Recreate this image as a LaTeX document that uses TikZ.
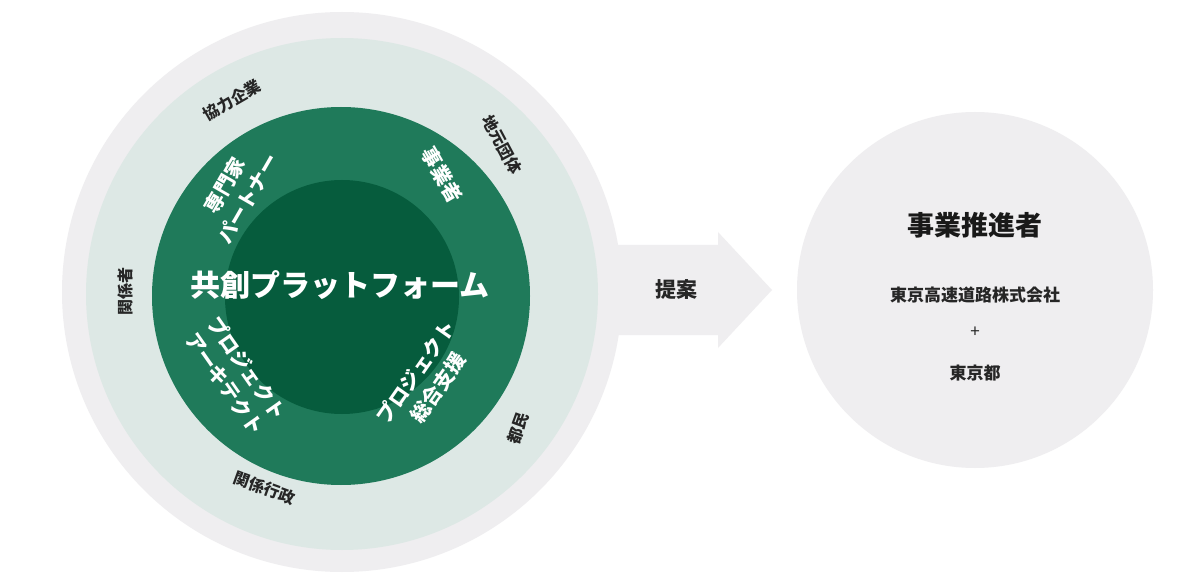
\documentclass[tikz,border=0pt]{standalone}
\usepackage{fontspec}
\setmainfont{Noto Sans CJK JP}
\begin{document}
\begin{tikzpicture}[x=1pt,y=-1pt,
  lbl/.style={font=\bfseries\fontsize{16}{18}\selectfont,text=black!85,align=center},
  wlbl/.style={font=\bfseries\fontsize{20}{27}\selectfont,text=white,align=center}]
\definecolor{greyc}{HTML}{EFEEF0}
\definecolor{palec}{HTML}{DDE8E5}
\definecolor{ringc}{HTML}{1F7A5A}
\definecolor{corec}{HTML}{065C3D}
\useasboundingbox (0,0) rectangle (1200,580);
\fill[white] (0,0) rectangle (1200,580);
% arrow
\fill[greyc] (560,245) -- (718,245) -- (718,232) -- (772,290) -- (718,348) -- (718,335) -- (560,335) -- cycle;
\fill[greyc] (342,292) circle (280);
\fill[palec] (342,294) circle (256);
\fill[ringc] (341,296) circle (189);
\fill[corec] (342,297) circle (117);
\node[font=\bfseries\fontsize{30}{33}\selectfont,text=white] (plat) at (340,285) {共創プラットフォーム};
\node[wlbl,rotate=60] (senmon) at (236,192) {専門家\\パートナー};
\node[wlbl,rotate=-60] (jigyo) at (442,175) {事業者};
\node[wlbl,rotate=-55] (arch) at (236,376) {プロジェクト\\アーキテクト};
\node[wlbl,rotate=55] (sogo) at (427,380) {プロジェクト\\総合支援};
\node[lbl,rotate=30] (kyoryoku) at (232,100) {協力企業};
\node[lbl,rotate=-62] (jimoto) at (502,145) {地元団体};
\node[lbl,rotate=90] (kankei) at (125,292) {関係者};
\node[lbl,rotate=70] (tomin) at (518,428) {都民};
\node[lbl,rotate=-20] (gyosei) at (265,488) {関係行政};
\node[font=\bfseries\fontsize{21}{24}\selectfont,text=black!85] (teian) at (676,290) {提案};
\fill[greyc] (975,290) circle (178);
\node[font=\bfseries\fontsize{27}{30}\selectfont,text=black!90] (suishin) at (975,225) {事業推進者};
\node[font=\bfseries\fontsize{17}{20}\selectfont,text=black!85] (shuto) at (975,295) {東京高速道路株式会社};
\node[font=\fontsize{17}{20}\selectfont,text=black!85] (plus) at (975,332) {+};
\node[font=\bfseries\fontsize{17}{20}\selectfont,text=black!85] (tokyo) at (975,373) {東京都};
\end{tikzpicture}
\end{document}
